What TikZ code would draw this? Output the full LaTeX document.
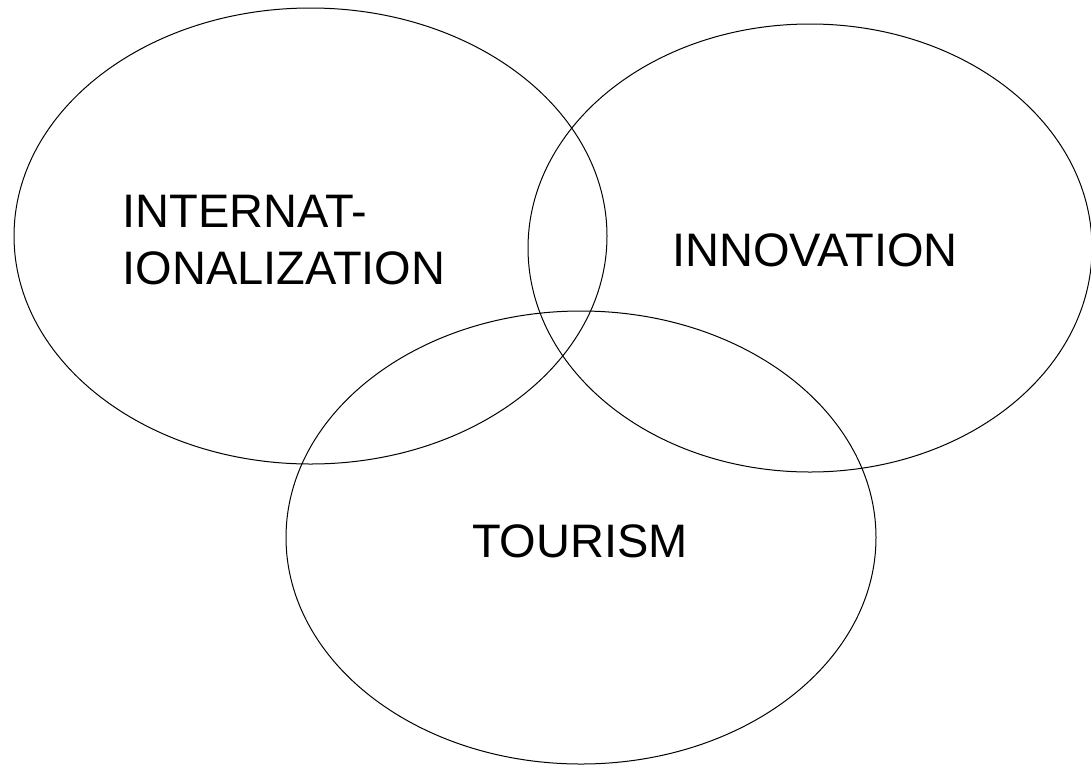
\documentclass[tikz,border=0pt]{standalone}
\usepackage{fontspec}
\setmainfont{Liberation Sans}

\begin{document}
\begin{tikzpicture}[x=1pt,y=-1pt,line width=1pt,
  lbl/.style={font=\fontsize{47}{57}\selectfont, inner sep=0pt, anchor=base}]

\useasboundingbox (0,0) rectangle (1091,766);

\draw (310.5,236) ellipse [x radius=296.5, y radius=228];
\draw (810,248) ellipse [x radius=282, y radius=224];
\draw (581,537.5) ellipse [x radius=295, y radius=226.5];

% base of a two-line node is its last line
\node[lbl, anchor=base west, align=left] (inter) at (122,284) {INTERNAT-\\IONALIZATION};
\node[lbl] (innov) at (815,266) {INNOVATION};
\node[lbl] (tour) at (580,557) {TOURISM};

\end{tikzpicture}
\end{document}
